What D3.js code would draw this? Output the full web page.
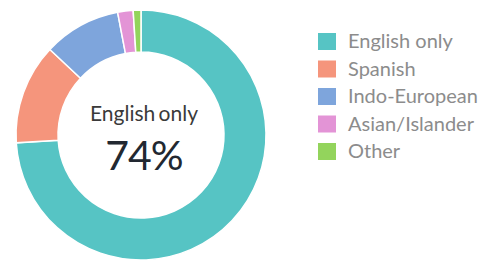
<!DOCTYPE html>
<html>
<head>
<meta charset="UTF-8">
<title>Language spoken at home</title>
<script src="https://d3js.org/d3.v7.min.js"></script>
<style>
  body {
    margin: 0;
    padding: 0;
    background: #fff;
    font-family: Lato, "Open Sans", sans-serif;
  }
  .legend-label {
    font-size: 20px;
    fill: #8c8c8c;
  }
</style>
</head>
<body>
<div id="chart"></div>
<script>
const languages = ["English only", "Spanish", "Indo-European", "Asian/Islander", "Other"];
const shares = [74, 13, 10, 2, 1];
const colors = ["#56c4c4", "#f5957c", "#7ea5dc", "#e394d6", "#93d45c"];

const width = 483, height = 263;
const cx = 141, cy = 135;
const outerR = 125, innerR = 83;

const svg = d3.select("#chart")
  .append("svg")
  .attr("width", width)
  .attr("height", height);

const color = d3.scaleOrdinal().domain(languages).range(colors);

const pie = d3.pie().sort(null).value(d => d.value);
const arc = d3.arc().innerRadius(innerR).outerRadius(outerR);

const data = languages.map((name, i) => ({ name: name, value: shares[i] }));

const g = svg.append("g").attr("transform", `translate(${cx},${cy})`);

g.selectAll("path")
  .data(pie(data))
  .enter()
  .append("path")
  .attr("d", arc)
  .attr("fill", d => color(d.data.name))
  .attr("stroke", "#fff")
  .attr("stroke-width", 1.5);

// texte au centre
g.append("text")
  .attr("text-anchor", "middle")
  .attr("x", 3)
  .attr("y", -14)
  .attr("font-size", 21)
  .attr("word-spacing", -2)
  .attr("fill", "#3a3a3a")
  .text(languages[0]);

g.append("text")
  .attr("text-anchor", "middle")
  .attr("x", 3)
  .attr("y", 35)
  .attr("font-size", 41)
  .attr("letter-spacing", -1)
  .attr("fill", "#222831")
  .text(shares[0] + "%");

// légende
const legend = svg.append("g").attr("transform", "translate(318,33)");
const row = legend.selectAll("g")
  .data(languages)
  .enter()
  .append("g")
  .attr("transform", (d, i) => `translate(0,${i * 27.5})`);

row.append("rect")
  .attr("width", 18)
  .attr("height", 17)
  .attr("fill", d => color(d));

row.append("text")
  .attr("class", "legend-label")
  .attr("x", 30)
  .attr("y", 15)
  .text(d => d);
</script>
</body>
</html>
